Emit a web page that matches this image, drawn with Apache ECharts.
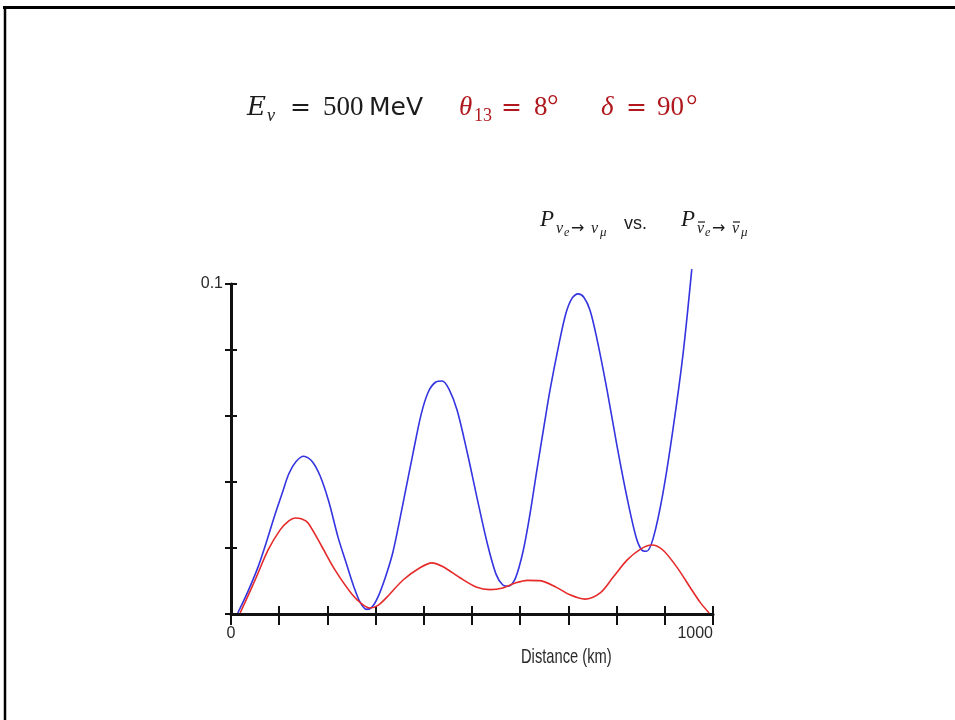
<!DOCTYPE html>
<html>
<head>
<meta charset="utf-8">
<title>P(νe→νμ) vs P(ν̄e→ν̄μ)</title>
<script src="https://cdn.jsdelivr.net/npm/echarts@6/dist/echarts.min.js"></script>
<style>
html, body { margin: 0; padding: 0; background: #fff; }
#chart { width: 955px; height: 720px; }
</style>
</head>
<body>
<div id="chart"></div>
<script>
// neutrino curve (blue): distance in km, probability
const nuDistance = [14, 35, 56, 75, 91, 106, 120, 135, 151, 168, 185, 203, 222, 240, 255, 268, 281, 292, 305, 320, 336, 357, 378, 395, 410, 425, 438, 452, 469, 490, 510, 531, 550, 564, 576, 590, 606, 620, 635, 650, 662, 680, 695, 708, 720, 732, 745, 759, 780, 801, 822, 840, 852, 862, 876, 896, 917, 938, 956]
const nuProb = [0.0003, 0.0068, 0.0142, 0.0225, 0.0300, 0.0365, 0.0425, 0.0462, 0.0478, 0.0463, 0.0418, 0.0340, 0.0233, 0.0150, 0.0082, 0.0035, 0.0014, 0.0020, 0.0052, 0.0110, 0.0188, 0.0336, 0.0490, 0.0608, 0.0675, 0.0703, 0.0706, 0.0682, 0.0618, 0.0490, 0.0355, 0.0218, 0.0120, 0.0088, 0.0084, 0.0108, 0.0190, 0.0300, 0.0440, 0.0575, 0.0680, 0.0815, 0.0912, 0.0958, 0.0970, 0.0960, 0.0920, 0.0835, 0.0680, 0.0508, 0.0350, 0.0235, 0.0194, 0.0190, 0.0230, 0.0365, 0.0560, 0.0790, 0.1045]

// anti-neutrino curve (red)
const nubarDistance = [19, 50, 77, 102, 120, 133, 147, 160, 189, 216, 251, 272, 288, 305, 324, 357, 392, 417, 440, 475, 510, 537, 564, 590, 615, 641, 676, 703, 734, 766, 793, 822, 849, 873, 896, 925, 952, 973, 992]
const nubarProb = [0.0003, 0.0103, 0.0194, 0.0255, 0.0282, 0.0291, 0.0288, 0.0276, 0.0203, 0.0133, 0.0060, 0.0030, 0.0018, 0.0026, 0.0052, 0.0103, 0.0140, 0.0155, 0.0143, 0.0110, 0.0081, 0.0074, 0.0079, 0.0094, 0.0102, 0.0101, 0.0080, 0.0058, 0.0045, 0.0064, 0.0112, 0.0164, 0.0196, 0.0209, 0.0194, 0.0142, 0.0082, 0.0036, 0.0003]

const xLabels = [0, 1000]
const yLabels = [0.1]

const SERIF = "'Liberation Serif', 'DejaVu Serif', serif"
const DSERIF = "'DejaVu Serif', serif"
const SANS = "'Liberation Sans', 'DejaVu Sans', sans-serif"
const DSANS = "'DejaVu Sans', sans-serif"
const INK = '#1c1c1c'
const RED = '#b0181d'

const zip = (xs, ys) => xs.map((x, i) => [x, ys[i]])

// one piece of formula text
const tx = (x, y, text, size, extra) => ({
  type: 'text', x, y, silent: true,
  style: Object.assign({
    text, fontSize: size, fontFamily: SERIF, fill: INK,
    align: 'left', verticalAlign: 'middle'
  }, extra)
})
const it = { fontStyle: 'italic' }
const red = { fill: RED }
const redIt = { fill: RED, fontStyle: 'italic' }
const eq = { fontFamily: DSERIF, fontSize: 25 }
const bar = (x1, x2, y) => ({
  type: 'line', silent: true, shape: { x1, y1: y, x2, y2: y },
  style: { stroke: INK, lineWidth: 1.2 }
})

const formula = [
  // E_nu = 500 MeV
  tx(247, 108, 'E', 26, { fontStyle: 'italic', fontFamily: DSERIF }),
  tx(267, 116, 'ν', 18, it),
  tx(290, 108, '=', 25, eq),
  tx(323, 108, '500', 27),
  tx(369, 108, 'MeV', 25, { fontFamily: DSANS }),
  // theta13 = 8 deg
  tx(459, 108, 'θ', 27, redIt),
  tx(474, 116, '13', 18, red),
  tx(501, 108, '=', 25, Object.assign({}, eq, red)),
  tx(534, 108, '8', 27, red),
  tx(547, 107, '°', 29, red),
  // delta = 90 deg
  tx(601, 108, 'δ', 27, redIt),
  tx(626, 108, '=', 25, Object.assign({}, eq, red)),
  tx(657, 108, '90', 27, red),
  tx(686, 107, '°', 29, red),
  // P(nu_e -> nu_mu) vs. P(nubar_e -> nubar_mu)
  tx(540, 220, 'P', 23, it),
  tx(556, 229, 'ν', 16, it),
  tx(564, 233, 'e', 12, it),
  tx(571, 229, '→', 16, { fontFamily: DSANS }),
  tx(591, 229, 'ν', 16, it),
  tx(600, 233, 'μ', 13, it),
  tx(624, 224, 'vs.', 18, { fontFamily: SANS }),
  tx(681, 220, 'P', 23, it),
  tx(697, 229, 'ν', 16, it),
  bar(698, 705, 222),
  tx(705, 233, 'e', 12, it),
  tx(712, 229, '→', 16, { fontFamily: DSANS }),
  tx(732, 229, 'ν', 16, it),
  bar(733, 740, 222),
  tx(741, 233, 'μ', 13, it),
  // x axis title, condensed like the original
  Object.assign(tx(521, 657, 'Distance (km)', 21, { fontFamily: SANS, fill: '#2a2a2a' }), { scaleX: 0.7 }),
  // slide frame
  { type: 'line', silent: true, shape: { x1: 3, y1: 7.5, x2: 955, y2: 7.5 }, style: { stroke: '#000', lineWidth: 3 } },
  { type: 'line', silent: true, shape: { x1: 5, y1: 6, x2: 5, y2: 720 }, style: { stroke: '#000', lineWidth: 2.5 } }
]

const chart = echarts.init(document.getElementById('chart'))

const axisInk = { color: '#111', width: 3 }
const tickInk = { color: '#111', width: 2 }
const labelStyle = { color: '#2a2a2a', fontFamily: SANS, fontSize: 16 }

chart.setOption({
  animation: false,
  backgroundColor: '#fff',
  grid: { left: 231, right: 242, top: 284, bottom: 106 },
  xAxis: [
    {
      type: 'value', min: 0, max: 1000, interval: 100, position: 'bottom',
      axisLine: { show: true, onZero: false, lineStyle: axisInk },
      axisTick: { show: true, length: 11, lineStyle: tickInk },
      axisLabel: Object.assign({
        margin: 12,
        alignMaxLabel: 'right',
        formatter: v => (xLabels.includes(v) ? String(v) : '')
      }, labelStyle),
      splitLine: { show: false }
    },
    {
      // the ticks cross the axis, so draw the inner half on a twin axis
      type: 'value', min: 0, max: 1000, interval: 100, position: 'bottom',
      axisLine: { show: false, onZero: false },
      axisTick: { show: true, inside: true, length: 8, lineStyle: tickInk },
      axisLabel: { show: false },
      splitLine: { show: false }
    }
  ],
  yAxis: [
    {
      type: 'value', min: 0, max: 0.1, interval: 0.02, position: 'left',
      axisLine: { show: true, onZero: false, lineStyle: axisInk },
      axisTick: { show: true, length: 6, lineStyle: tickInk },
      axisLabel: Object.assign({
        margin: 8,
        formatter: v => (yLabels.some(l => Math.abs(l - v) < 1e-9) ? String(v) : '')
      }, labelStyle),
      splitLine: { show: false }
    },
    {
      type: 'value', min: 0, max: 0.1, interval: 0.02, position: 'left',
      axisLine: { show: false, onZero: false },
      axisTick: { show: true, inside: true, length: 6, lineStyle: tickInk },
      axisLabel: { show: false },
      splitLine: { show: false }
    }
  ],
  series: [
    {
      name: 'nu', type: 'line', data: zip(nuDistance, nuProb),
      smooth: 0.3, showSymbol: false, clip: false, silent: true,
      lineStyle: { color: '#3434e0', width: 1.6 }
    },
    {
      name: 'nubar', type: 'line', data: zip(nubarDistance, nubarProb),
      smooth: 0.3, showSymbol: false, clip: false, silent: true,
      lineStyle: { color: '#e62a2a', width: 1.6 }
    }
  ],
  graphic: formula
})

window.addEventListener('resize', () => chart.resize())
</script>
</body>
</html>
